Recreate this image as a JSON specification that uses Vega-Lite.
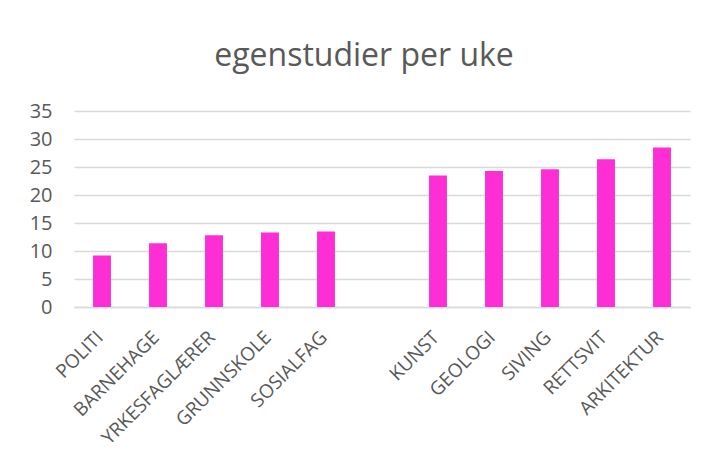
{
  "$schema": "https://vega.github.io/schema/vega-lite/v6.json",
  "autosize": {"type": "none"},
  "width": 616,
  "height": 196,
  "padding": {"left": 74, "top": 111, "right": 22, "bottom": 162},
  "background": "white",
  "title": {"text": "egenstudier per uke", "font": "Open Sans", "fontSize": 32, "fontWeight": "normal", "color": "#595959", "anchor": "middle", "offset": 28, "dx": -18},
  "data": {"values": [
    {"fag": "POLITI", "timer": 9.2},
    {"fag": "BARNEHAGE", "timer": 11.4},
    {"fag": "YRKESFAGLÆRER", "timer": 12.8},
    {"fag": "GRUNNSKOLE", "timer": 13.3},
    {"fag": "SOSIALFAG", "timer": 13.5},
    {"fag": "KUNST", "timer": 23.5},
    {"fag": "GEOLOGI", "timer": 24.3},
    {"fag": "SIVING", "timer": 24.6},
    {"fag": "RETTSVIT", "timer": 26.4},
    {"fag": "ARKITEKTUR", "timer": 28.5}
  ]},
  "mark": {"type": "bar", "color": "#FF2DD4"},
  "encoding": {
    "x": {
      "field": "fag", "type": "nominal", "sort": null,
      "scale": {"domain": ["POLITI", "BARNEHAGE", "YRKESFAGLÆRER", "GRUNNSKOLE", "SOSIALFAG", " ", "KUNST", "GEOLOGI", "SIVING", "RETTSVIT", "ARKITEKTUR"], "paddingInner": 0.68, "paddingOuter": 0.34},
      "axis": {"title": null, "labelAngle": -45, "labelAlign": "right", "labelBaseline": "middle", "labelFont": "Open Sans", "labelFontSize": 19, "labelColor": "#595959", "ticks": false, "tickSize": 0, "domain": true, "domainColor": "#D9D9D9", "domainWidth": 1.5, "labelPadding": 27, "labelOffset": -2, "labelOverlap": false}
    },
    "y": {
      "field": "timer", "type": "quantitative",
      "scale": {"domain": [0, 35]},
      "axis": {"title": null, "values": [0, 5, 10, 15, 20, 25, 30, 35], "domain": false, "ticks": false, "tickSize": 0, "grid": true, "gridColor": "#D9D9D9", "gridWidth": 1.5, "labelFont": "Open Sans", "labelFontSize": 20, "labelColor": "#595959", "labelPadding": 22}
    }
  },
  "config": {"view": {"stroke": null}}
}
